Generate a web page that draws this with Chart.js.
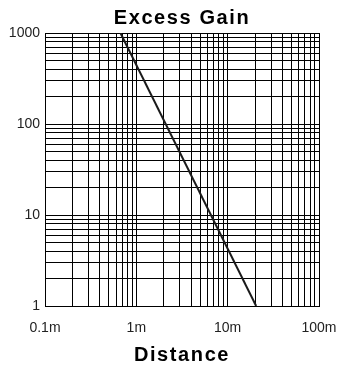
<!DOCTYPE html>
<html>
<head>
<meta charset="utf-8">
<script src="https://cdn.jsdelivr.net/npm/chart.js@4/dist/chart.umd.min.js"></script>
<style>
html,body{margin:0;padding:0;background:#fff;}
#wrap{width:340px;height:370px;}
</style>
</head>
<body>
<div id="wrap"><canvas id="c" width="340" height="370"></canvas></div>
<script>
const chartTitle = "Excess Gain";
const xAxisTitle = "Distance";
const xTickValues = [0.1, 1, 10, 100];
const xTickLabels = ["0.1m", "1m", "10m", "100m"];
const yTickValues = [1, 10, 100, 1000];
const yTickLabels = ["1", "10", "100", "1000"];
const lineDistance = [0.67, 20.5];
const lineGain = [1000, 1];

function logTicks(majors) {
  const out = [];
  for (let i = 0; i < majors.length - 1; i++) {
    for (let k = 1; k <= 9; k++) out.push({ value: majors[i] * k, major: k === 1 });
  }
  out.push({ value: majors[majors.length - 1], major: true });
  return out;
}
function labelFor(majors, labels, value) {
  for (let i = 0; i < majors.length; i++) {
    if (Math.abs(value - majors[i]) / majors[i] < 1e-6) return labels[i];
  }
  return '';
}

const spacingPlugin = {
  id: 'spacing',
  beforeDraw(chart) {
    if (chart.$patched) return;
    chart.$patched = true;
    const ctx = chart.ctx;
    const tb = chart.titleBlock;
    if (tb) {
      const o = tb.draw;
      tb.draw = function () {
        const l = this.left, r = this.right;
        this.left = chart.chartArea.left; this.right = chart.chartArea.right;
        ctx.save(); ctx.letterSpacing = '1.6px'; o.apply(this, arguments); ctx.restore();
        this.left = l; this.right = r;
      };
    }
    const xs = chart.scales.x;
    const od = xs.drawTitle;
    xs.drawTitle = function () { ctx.save(); ctx.letterSpacing = '1.6px'; od.apply(this, arguments); ctx.restore(); };
  }
};

const font = "Arial, 'Liberation Sans', sans-serif";

new Chart(document.getElementById('c'), {
  type: 'line',
  data: {
    datasets: [{
      data: lineDistance.map((d, i) => ({ x: d, y: lineGain[i] })),
      borderColor: '#1a1a1a',
      borderWidth: 2,
      pointRadius: 0,
      fill: false,
      tension: 0
    }]
  },
  options: {
    responsive: false,
    animation: false,
    devicePixelRatio: 1,
    layout: { padding: { left: 0, right: 21, top: 0, bottom: 0 } },
    plugins: {
      legend: { display: false },
      tooltip: { enabled: false },
      title: {
        display: true,
        text: chartTitle,
        color: '#000',
        font: { family: font, size: 20, weight: 'bold', lineHeight: 1.2 },
        padding: { top: 6, bottom: 3 }
      }
    },
    scales: {
      x: {
        type: 'logarithmic',
        min: xTickValues[0],
        max: xTickValues[xTickValues.length - 1],
        afterBuildTicks(s) { s.ticks = logTicks(xTickValues); },
        afterFit(s) { s.height = 64; s.paddingRight = 0; s.paddingLeft = 0; },
        ticks: {
          autoSkip: false,
          maxRotation: 0,
          padding: 14,
          color: '#222',
          font: { family: font, size: 14 },
          callback: (v) => labelFor(xTickValues, xTickLabels, v)
        },
        grid: { color: '#000', lineWidth: 1, drawTicks: false },
        border: { display: true, color: '#000', width: 1 },
        title: {
          display: true,
          text: xAxisTitle,
          color: '#000',
          font: { family: font, size: 20, weight: 'bold', lineHeight: 1.2 },
          padding: { top: 0, bottom: 3 }
        }
      },
      y: {
        type: 'logarithmic',
        min: yTickValues[0],
        max: yTickValues[yTickValues.length - 1],
        afterBuildTicks(s) { s.ticks = logTicks(yTickValues); },
        afterFit(s) { s.width = 45; s.paddingTop = 0; s.paddingBottom = 0; },
        ticks: {
          autoSkip: false,
          padding: 5,
          color: '#222',
          font: { family: font, size: 14 },
          callback: (v) => labelFor(yTickValues, yTickLabels, v)
        },
        grid: { color: '#000', lineWidth: 1, drawTicks: false },
        border: { display: true, color: '#000', width: 1 }
      }
    }
  },
  plugins: [spacingPlugin]
});
</script>
</body>
</html>
